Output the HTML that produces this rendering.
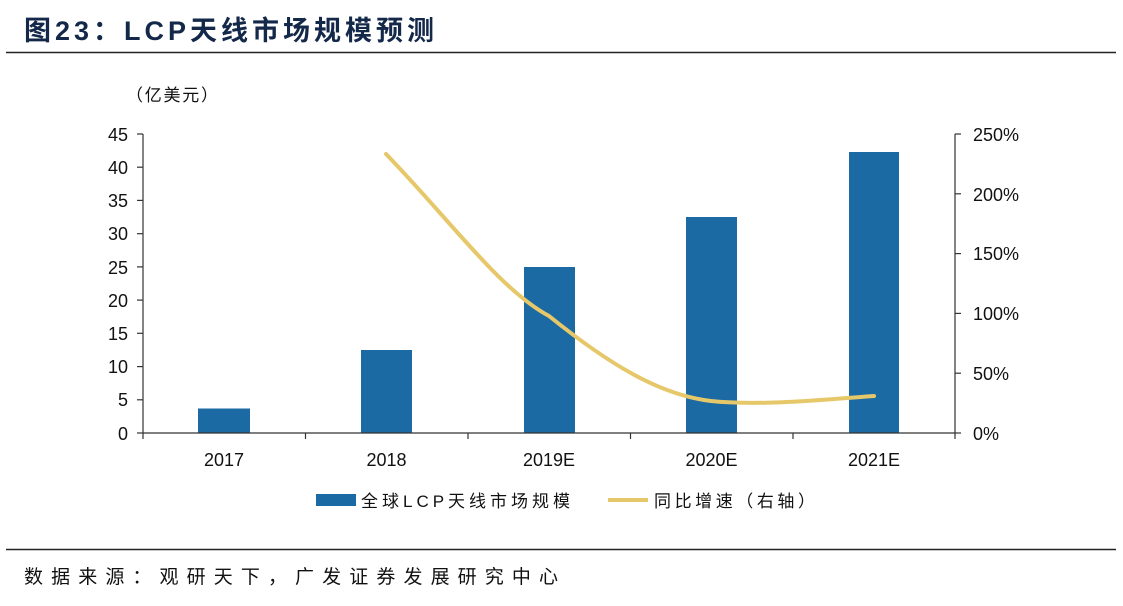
<!DOCTYPE html>
<html><head><meta charset="utf-8"><style>
body{margin:0;background:#fff;}
</style></head><body>
<svg width="1123" height="601" xmlns="http://www.w3.org/2000/svg" font-family="'Liberation Sans','Noto Sans CJK SC',sans-serif">
<text x="24" y="40" font-size="27" font-weight="bold" fill="#14284a" textLength="410" lengthAdjust="spacing">图23：LCP天线市场规模预测</text>
<line x1="6" y1="52.5" x2="1116" y2="52.5" stroke="#222" stroke-width="1.5"/>
<text x="126" y="101" font-size="17" fill="#111" textLength="92" lengthAdjust="spacing">（亿美元）</text>
<g fill="#1c6aa3">
<rect x="198" y="408.5" width="52" height="24.5"/>
<rect x="361" y="350" width="51" height="83"/>
<rect x="524" y="267" width="51" height="166"/>
<rect x="686" y="217" width="51" height="216"/>
<rect x="849" y="152" width="50" height="281"/>
</g>
<g stroke="#333" stroke-width="1.2" fill="none">
<line x1="143" y1="134" x2="143" y2="433"/>
<line x1="143" y1="433" x2="955" y2="433"/>
<line x1="955" y1="134" x2="955" y2="439"/>
<line x1="137" y1="134" x2="143" y2="134"/><line x1="137" y1="167.2" x2="143" y2="167.2"/><line x1="137" y1="200.4" x2="143" y2="200.4"/><line x1="137" y1="233.7" x2="143" y2="233.7"/><line x1="137" y1="266.9" x2="143" y2="266.9"/><line x1="137" y1="300.1" x2="143" y2="300.1"/><line x1="137" y1="333.3" x2="143" y2="333.3"/><line x1="137" y1="366.6" x2="143" y2="366.6"/><line x1="137" y1="399.8" x2="143" y2="399.8"/><line x1="137" y1="433" x2="143" y2="433"/>
<line x1="955" y1="134" x2="961" y2="134"/><line x1="955" y1="193.8" x2="961" y2="193.8"/><line x1="955" y1="253.6" x2="961" y2="253.6"/><line x1="955" y1="313.4" x2="961" y2="313.4"/><line x1="955" y1="373.2" x2="961" y2="373.2"/><line x1="955" y1="433" x2="961" y2="433"/>
<line x1="305.5" y1="433" x2="305.5" y2="439"/><line x1="468" y1="433" x2="468" y2="439"/><line x1="630.5" y1="433" x2="630.5" y2="439"/><line x1="793" y1="433" x2="793" y2="439"/><line x1="143" y1="433" x2="143" y2="439"/>
</g>
<g font-size="18" fill="#111" text-anchor="end">
<text x="128" y="141">45</text><text x="128" y="174">40</text><text x="128" y="207">35</text><text x="128" y="240">30</text><text x="128" y="274">25</text><text x="128" y="307">20</text><text x="128" y="340">15</text><text x="128" y="373">10</text><text x="128" y="406">5</text><text x="128" y="440">0</text>
</g>
<g font-size="18" fill="#111">
<text x="973" y="141">250%</text><text x="973" y="201">200%</text><text x="973" y="260">150%</text><text x="973" y="320">100%</text><text x="973" y="380">50%</text><text x="973" y="440">0%</text>
</g>
<g font-size="18" fill="#111" text-anchor="middle">
<text x="224" y="466">2017</text><text x="386.5" y="466">2018</text><text x="549" y="466">2019E</text><text x="711.5" y="466">2020E</text><text x="874" y="466">2021E</text>
</g>
<path d="M386,154 C450,220 500,290 549,316 C610,365 660,395 711,401 C760,406 820,400 874,396" fill="none" stroke="#e6c86a" stroke-width="4" stroke-linecap="round"/>
<rect x="316" y="494" width="40" height="12" fill="#1c6aa3"/>
<text x="361" y="507" font-size="17" fill="#111" textLength="209" lengthAdjust="spacing">全球LCP天线市场规模</text>
<line x1="608" y1="500" x2="648" y2="500" stroke="#e6c86a" stroke-width="4"/>
<text x="654" y="507" font-size="17" fill="#111" textLength="161" lengthAdjust="spacing">同比增速（右轴）</text>
<line x1="6" y1="549.5" x2="1116" y2="549.5" stroke="#222" stroke-width="1.5"/>
<text x="24" y="583" font-size="19" fill="#111" textLength="534" lengthAdjust="spacing">数据来源：观研天下，广发证券发展研究中心</text>
</svg>
</body></html>
